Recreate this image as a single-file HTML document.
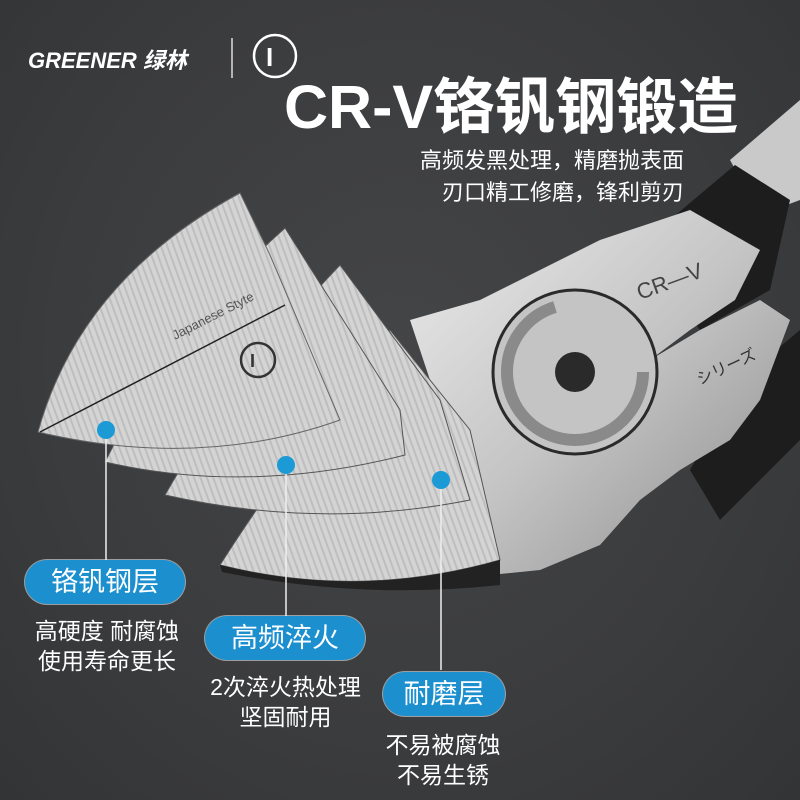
<!DOCTYPE html>
<html><head><meta charset="utf-8"><style>
html,body{margin:0;padding:0}
body{width:800px;height:800px;overflow:hidden;position:relative;background:radial-gradient(ellipse at 50% 45%,#444547 0%,#3b3c3e 60%,#333436 100%);font-family:"Liberation Sans","Noto Sans CJK SC",sans-serif;color:#fff}
.a{position:absolute;white-space:nowrap}
.box{position:absolute;background:#1c8fcf;border-radius:22px;color:#fff;text-align:center;box-sizing:border-box;box-shadow:0 0 0 1px rgba(255,255,255,0.5)}
.t{position:absolute;font-size:23px;line-height:30px;text-align:center;color:#fff;white-space:nowrap}
</style></head><body>
<svg class="a" style="left:0;top:0" width="800" height="800">
<defs>
<pattern id="st" width="6" height="6" patternUnits="userSpaceOnUse" patternTransform="rotate(-20)"><rect width="6" height="6" fill="#d4d4d4"/><rect width="2" height="6" fill="#bebebe"/></pattern>
<linearGradient id="met" x1="0" y1="0" x2="1" y2="1"><stop offset="0" stop-color="#ececec"/><stop offset="0.5" stop-color="#c4c4c4"/><stop offset="1" stop-color="#8a8a8a"/></linearGradient>
</defs>
<path d="M730,160 L800,100 L800,200 L760,215 Z" fill="#c9c9c9"/>
<path d="M640,245 L735,165 L790,200 L770,290 L700,330 Z" fill="#1d1d1e"/>
<path d="M740,380 L800,330 L800,440 L720,520 L690,470 Z" fill="#1d1d1e"/>
<path d="M410,320 L480,300 L540,270 L600,240 L690,210 L760,250 L735,300 L690,330 L650,360 L700,330 L760,300 L790,320 L760,400 L730,440 L680,470 L640,500 L600,545 L540,570 L490,575 L470,540 L450,440 Z" fill="url(#met)"/>
<circle cx="575" cy="372" r="82" fill="#c4c4c4" stroke="#2a2a2a" stroke-width="3"/>
<circle cx="575" cy="372" r="68" fill="none" stroke="#8a8a8a" stroke-width="12" stroke-dasharray="300 130"/>
<circle cx="575" cy="372" r="20" fill="#2a2a2a"/>
<text x="640" y="300" font-size="22" fill="#444" transform="rotate(-20 640 300)">CR—V</text>
<text x="700" y="385" font-size="16" fill="#333" transform="rotate(-25 700 385)">シリーズ</text>
<path d="M220,565 Q280,470 390,330 L470,430 L500,560 Q360,600 220,565 Z" fill="url(#st)" stroke="#555" stroke-width="1"/>
<path d="M220,565 Q360,600 500,560 L500,585 Q360,600 222,572 Z" fill="#222"/>
<path d="M165,495 Q230,380 340,265 L440,400 L470,500 Q320,530 165,495 Z" fill="url(#st)" stroke="#555" stroke-width="1"/>
<path d="M105,462 Q170,330 285,228 L400,410 L405,455 Q250,495 105,462 Z" fill="url(#st)" stroke="#555" stroke-width="1"/>
<path d="M38,432 Q80,280 240,193 L270,255 L340,420 Q200,470 38,432 Z" fill="url(#st)" stroke="#666" stroke-width="1"/>
<line x1="40" y1="432" x2="285" y2="305" stroke="#222" stroke-width="1.5"/>
<text x="175" y="340" font-size="13" fill="#555" transform="rotate(-27 175 340)">Japanese Styte</text>
<circle cx="258" cy="360" r="17" fill="none" stroke="#333" stroke-width="2.5"/>
<text x="250" y="367" font-size="18" font-weight="bold" fill="#333">I</text>
<g stroke="#eee" stroke-width="1.5"><line x1="106" y1="430" x2="106" y2="560"/><line x1="286" y1="465" x2="286" y2="616"/><line x1="441" y1="480" x2="441" y2="670"/></g>
<g fill="#1c9ad6"><circle cx="106" cy="430" r="9"/><circle cx="286" cy="465" r="9"/><circle cx="441" cy="480" r="9"/></g>
<line x1="232" y1="38" x2="232" y2="78" stroke="#ddd" stroke-width="1.5"/>
<circle cx="275" cy="56" r="21" fill="none" stroke="#fff" stroke-width="2.5"/>
<text x="266" y="66" font-size="26" font-weight="bold" fill="#fff">I</text>
</svg>
<div class="a" style="left:28px;top:43px;font-size:22px;font-weight:bold;font-style:italic">GREENER 绿林</div>
<div class="a" style="left:284px;top:72px;font-size:61px;font-weight:bold;line-height:70px">CR-V铬钒钢锻造</div>
<div class="a" style="left:372px;top:145px;font-size:22px;line-height:32px;text-align:right;width:312px">高频发黑处理，精磨抛表面<br>刃口精工修磨，锋利剪刃</div>
<div class="box" style="left:25px;top:560px;width:160px;height:44px;font-size:27px;line-height:44px">铬钒钢层</div>
<div class="t" style="left:22px;top:616px;width:170px">高硬度 耐腐蚀<br>使用寿命更长</div>
<div class="box" style="left:205px;top:616px;width:160px;height:44px;font-size:27px;line-height:44px">高频淬火</div>
<div class="t" style="left:193px;top:672px;width:185px">2次淬火热处理<br>坚固耐用</div>
<div class="box" style="left:383px;top:672px;width:122px;height:44px;font-size:27px;line-height:44px">耐磨层</div>
<div class="t" style="left:363px;top:730px;width:160px">不易被腐蚀<br>不易生锈</div>
</body></html>
